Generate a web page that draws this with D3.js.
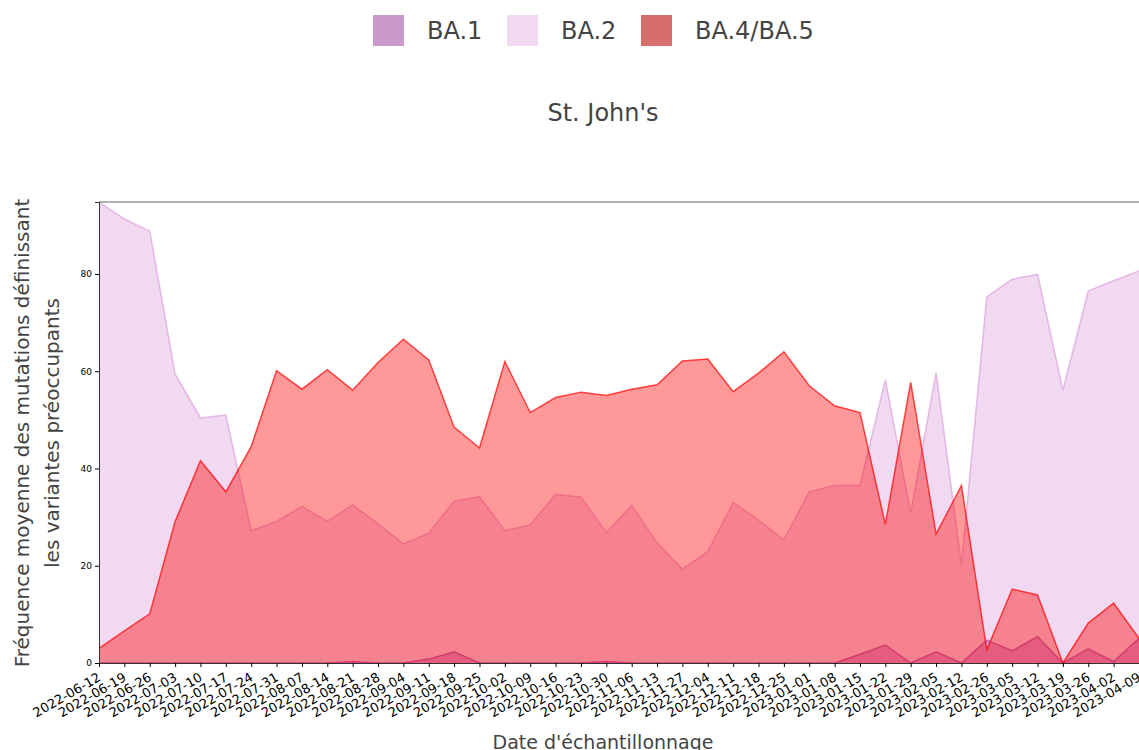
<!DOCTYPE html>
<html>
<head>
<meta charset="utf-8">
<script src="https://cdn.jsdelivr.net/npm/d3@7"></script>
<style>
  body { margin: 0; background: #fff; }
  svg { font-family: "DejaVu Sans", sans-serif; }
</style>
</head>
<body>
<div id="viz"></div>
<script>

var dates = ["2022-06-12","2022-06-19","2022-06-26","2022-07-03","2022-07-10","2022-07-17","2022-07-24",
	"2022-07-31","2022-08-07","2022-08-14","2022-08-21","2022-08-28","2022-09-04","2022-09-11",
	"2022-09-18","2022-09-25","2022-10-02","2022-10-09","2022-10-16","2022-10-23","2022-10-30",
	"2022-11-06","2022-11-13","2022-11-27","2022-12-04","2022-12-11","2022-12-18","2022-12-25",
	"2023-01-01","2023-01-08","2023-01-15","2023-01-22","2023-01-29","2023-02-05","2023-02-12",
	"2023-02-26","2023-03-05","2023-03-12","2023-03-19","2023-03-26","2023-04-02","2023-04-09"];

var ba1 = [0,0,0,0,0,0,0,0,0,0,0.3,0,0,0.8,2.3,0,0,0,0,0,0.3,
	0,0,0,0,0,0,0,0,0,1.8,3.7,0,2.3,0,4.7,2.5,5.4,0,2.9,0.3,5.1];

var ba2 = [94.8,91.3,88.8,59.4,50.4,51.0,27.2,29.1,32.2,29.1,32.5,28.6,24.5,26.7,33.3,34.2,27.2,28.4,34.7,34.1,26.8,
	32.4,24.7,19.3,22.9,33.0,29.4,25.3,35.2,36.5,36.5,58.2,30.8,59.7,20.2,75.3,78.9,79.9,56.1,76.5,78.6,80.6];

var ba45 = [3.0,6.6,10.1,29.1,41.6,35.2,44.5,60.1,56.3,60.3,56.1,61.8,66.6,62.3,48.5,44.2,62.0,51.5,54.6,55.7,55.0,
	56.3,57.2,62.1,62.5,55.8,59.6,64.0,57.0,52.9,51.5,28.5,57.7,26.5,36.5,2.7,15.2,14.0,0,8.2,12.3,5.1];

var yTicks = [0, 20, 40, 60, 80];

var series = [
	{name: "BA.1", values: ba1, fill: "purple", line: "purple", legend: "#cc99cc"},
	{name: "BA.2", values: ba2, fill: "plum", line: "plum", legend: "#f1d9f1"},
	{name: "BA.4/BA.5", values: ba45, fill: "red", line: "red", legend: "#d66e6e"}
];

var width = 1139, height = 750;
var margin = {left: 99, right: 0, top: 202, bottom: 87};

var svg = d3.select('#viz')
	.append('svg')
		.attr('width', width)
		.attr('height', height);

var x = d3.scalePoint()
	.domain(dates)
	.range([margin.left, width - margin.right]);

var y = d3.scaleLinear()
	.domain([0, d3.max(ba2)])
	.range([height - margin.bottom, margin.top]);

// areas, drawn one over the other (not stacked)
series.forEach(function(s) {
	var pts = s.values.map(function(v, i) { return [dates[i], v]; });
	var area = d3.area()
		.x(function(d) { return x(d[0]); })
		.y0(y(0))
		.y1(function(d) { return y(d[1]); });
	var line = d3.line()
		.x(function(d) { return x(d[0]); })
		.y(function(d) { return y(d[1]); });
	svg.append('path')
		.attr('d', area(pts))
		.style('fill', s.fill)
		.style('fill-opacity', 0.4);
	svg.append('path')
		.attr('d', line(pts))
		.style('fill', 'none')
		.style('stroke', s.line)
		.style('stroke-opacity', 0.7)
		.style('stroke-width', 1.5);
});

// frame: top border
svg.append('line')
	.attr('x1', margin.left).attr('x2', width)
	.attr('y1', margin.top).attr('y2', margin.top)
	.style('stroke', '#666').style('stroke-width', 1.2);

var yAxis = svg.append('g')
	.attr('transform', 'translate(' + margin.left + ',0)')
	.call(d3.axisLeft(y).tickValues(yTicks).tickSize(4).tickPadding(3));
yAxis.selectAll('text').style('font-size', '9px').style('fill', '#000').style('font-family', 'DejaVu Sans');
yAxis.select('.domain').style('stroke', '#333');

var xAxis = svg.append('g')
	.attr('transform', 'translate(0,' + y(0) + ')')
	.call(d3.axisBottom(x).tickSize(4).tickSizeOuter(0));
xAxis.select('.domain').style('stroke', '#333');
xAxis.selectAll('text')
	.style('font-size', '13px')
	.style('fill', '#000')
	.style('font-family', 'DejaVu Sans')
	.attr('text-anchor', 'end')
	.attr('dy', '0.35em')
	.attr('transform', 'translate(0,13) rotate(-30)')
	.attr('y', 0);

// axis titles
svg.append('text')
	.attr('x', 603).attr('y', 749)
	.attr('text-anchor', 'middle')
	.style('font-size', '19px')
	.style('fill', '#444')
	.text("Date d'échantillonnage");

var yl = svg.append('text')
	.attr('transform', 'translate(29,433) rotate(-90)')
	.attr('text-anchor', 'middle')
	.style('font-size', '20px')
	.style('fill', '#444');
yl.append('tspan').attr('x', 0).attr('dy', 0).text("Fréquence moyenne des mutations définissant");
yl.append('tspan').attr('x', 0).attr('dy', 30).text("les variantes préoccupants");

// title
svg.append('text')
	.attr('x', 603).attr('y', 121)
	.attr('text-anchor', 'middle')
	.style('font-size', '24px')
	.style('fill', '#444')
	.text("St. John's");

// legend
var legendX = [373, 507, 641];
var leg = svg.selectAll('.leg')
	.data(series)
	.enter().append('g')
		.attr('class', 'leg')
		.attr('transform', function(d, i) { return 'translate(' + legendX[i] + ',15)'; });
leg.append('rect')
	.attr('width', 31).attr('height', 31)
	.style('fill', function(d) { return d.legend; });
leg.append('text')
	.attr('x', 54).attr('y', 24)
	.style('font-size', '24px')
	.style('fill', '#444')
	.text(function(d) { return d.name; });

</script>
</body>
</html>
